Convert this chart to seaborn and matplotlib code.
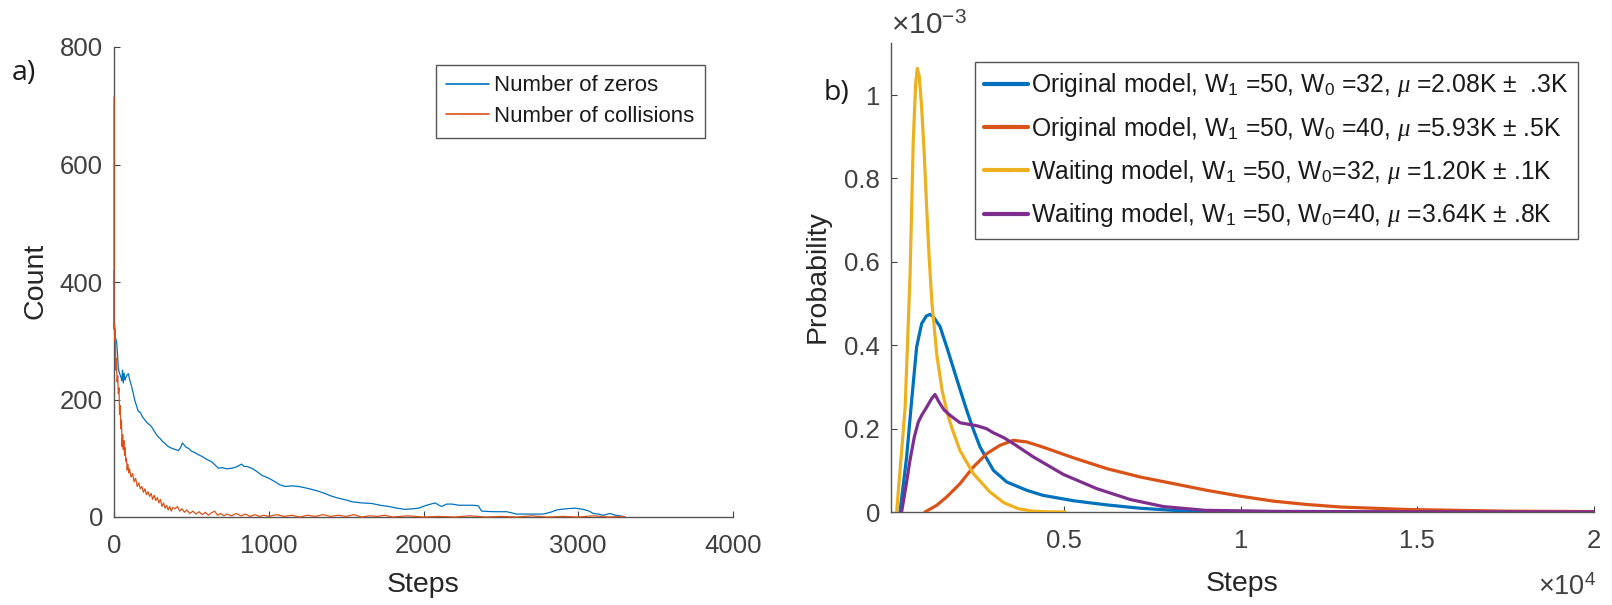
import matplotlib
matplotlib.use("Agg")
import matplotlib.pyplot as plt
import matplotlib.ticker as mticker
import numpy as np
import pandas as pd
import seaborn as sns

# ---------------- data: panel a ----------------
zeros_steps = [0, 0, 2, 5, 10, 17, 22, 28, 35, 45, 50, 55, 60, 65, 71, 80, 93, 100, 114, 125, 135,
               147, 157, 170, 185, 200, 215, 230, 244, 260, 275, 287, 300, 315, 330, 350, 373,
               395, 416, 430, 442, 455, 470, 481, 500, 520, 545, 570, 600, 631, 655, 675, 700,
               730, 761, 790, 810, 825, 840, 860, 890, 920, 955, 1000, 1041, 1070, 1106, 1150,
               1192, 1230, 1278, 1320, 1364, 1400, 1450, 1500, 1537, 1600, 1666, 1720, 1774,
               1830, 1881, 1930, 1968, 2020, 2075, 2100, 2118, 2150, 2183, 2230, 2270, 2320,
               2354, 2376, 2450, 2538, 2602, 2700, 2774, 2820, 2861, 2920, 2979, 3033, 3070,
               3097, 3130, 3162, 3205, 3240, 3270, 3302]
zeros_count = [420, 320, 330, 320, 305, 298, 280, 253, 245, 238, 232, 250, 228, 245, 233, 240, 244,
               235, 222, 210, 198, 188, 180, 178, 170, 165, 160, 157, 153, 146, 140, 136, 133,
               128, 125, 120, 117, 115, 113, 118, 126, 122, 118, 117, 112, 110, 106, 103, 98,
               94, 88, 83, 84, 82, 83, 85, 88, 90, 86, 86, 83, 78, 71, 66, 60, 55, 52, 53, 52,
               50, 47, 44, 40, 36, 32, 29, 26, 24, 23, 20, 18, 15, 13, 14, 15, 20, 24, 20, 18,
               22, 22, 20, 20, 20, 19, 10, 9, 9, 5, 5, 5, 8, 12, 14, 15, 13, 10, 6, 5, 3, 6, 3,
               2, 0]

coll_steps = [0, 0, 2, 5, 8, 12, 16, 20, 24, 28, 32, 36, 40, 44, 48, 52, 56, 60, 64, 68, 72, 76,
              80, 85, 90, 95, 100, 110, 120, 130, 140, 150, 160, 170, 180, 190, 200, 210, 220,
              230, 240, 250, 260, 270, 280, 290, 300, 310, 320, 330, 340, 350, 360, 370, 380,
              395, 410, 425, 440, 455, 470, 490, 510, 530, 550, 570, 590, 610, 630, 650, 670,
              690, 710, 730, 760, 790, 820, 850, 880, 910, 940, 970, 1000, 1050, 1100, 1150,
              1200, 1250, 1300, 1350, 1400, 1450, 1500, 1550, 1600, 1650, 1700, 1750, 1800,
              1900, 2000, 2100, 2200, 2300, 2400, 2500, 2600, 2700, 2800, 2900, 3000, 3100,
              3200, 3300]
coll_count = [715, 320, 330, 300, 320, 250, 270, 230, 240, 210, 220, 175, 190, 150, 165, 120, 140,
              115, 130, 105, 118, 95, 100, 80, 90, 75, 82, 68, 74, 60, 66, 52, 58, 48, 52, 42,
              48, 38, 43, 35, 40, 30, 37, 28, 33, 24, 30, 18, 24, 15, 20, 12, 18, 10, 16, 14,
              18, 10, 14, 8, 12, 6, 10, 5, 9, 4, 8, 3, 7, 10, 3, 6, 2, 5, 2, 6, 2, 5, 1, 4, 1,
              3, 1, 4, 1, 3, 0, 3, 1, 4, 1, 3, 1, 4, 0, 2, 1, 3, 0, 2, 0, 1, 0, 2, 0, 1, 0, 2,
              0, 1, 0, 2, 0, 1]

# ---------------- data: panel b (probability) ----------------
orig32_steps = [354, 543, 685, 826, 968, 1100, 1204, 1300, 1487, 1700, 1865, 2050, 2243, 2430,
                2620, 2998, 3376, 3943, 4400, 5264, 6209, 7153, 8097, 9500, 11000, 13000, 14567]
orig32_prob = [0, 0.132e-3, 0.268e-3, 0.396e-3, 0.452e-3, 0.47e-3, 0.474e-3, 0.468e-3, 0.445e-3,
               0.39e-3, 0.345e-3, 0.295e-3, 0.244e-3, 0.198e-3, 0.156e-3, 0.10e-3, 0.072e-3,
               0.052e-3, 0.040e-3, 0.027e-3, 0.017e-3, 0.009e-3, 0.004e-3, 0.0015e-3, 0.0008e-3,
               0.0003e-3, 0.0001e-3]

orig40_steps = [1062, 1393, 1675, 2054, 2431, 2810, 3187, 3565, 3943, 4320, 5264, 6209, 7153,
                8097, 9041, 9986, 10930, 11875, 12820, 13764, 14708, 16126, 17543, 20000]
orig40_prob = [0, 0.016e-3, 0.036e-3, 0.068e-3, 0.108e-3, 0.14e-3, 0.16e-3, 0.172e-3, 0.168e-3,
               0.158e-3, 0.13e-3, 0.104e-3, 0.084e-3, 0.068e-3, 0.052e-3, 0.038e-3, 0.026e-3,
               0.018e-3, 0.012e-3, 0.009e-3, 0.006e-3, 0.004e-3, 0.002e-3, 0.001e-3]

wait32_steps = [260, 500, 640, 730, 800, 845, 900, 968, 1040, 1110, 1180, 1260, 1400, 1550, 1700,
                1850, 2050, 2430, 2900, 3300, 3700, 4100, 4500, 5030]
wait32_prob = [0, 0.25e-3, 0.57e-3, 0.89e-3, 1.03e-3, 1.064e-3, 1.045e-3, 0.97e-3, 0.86e-3,
               0.73e-3, 0.61e-3, 0.50e-3, 0.375e-3, 0.29e-3, 0.235e-3, 0.195e-3, 0.148e-3,
               0.092e-3, 0.048e-3, 0.022e-3, 0.008e-3, 0.002e-3, 0.0005e-3, 0]

wait40_steps = [400, 520, 637, 760, 873, 968, 1100, 1250, 1346, 1450, 1600, 1771, 2054, 2526,
                2800, 2998, 3300, 3565, 4131, 4982, 5926, 6870, 7814, 9000, 11000, 14000, 17000,
                20000]
wait40_prob = [0, 0.06e-3, 0.124e-3, 0.18e-3, 0.216e-3, 0.232e-3, 0.25e-3, 0.272e-3, 0.282e-3,
               0.265e-3, 0.245e-3, 0.232e-3, 0.214e-3, 0.207e-3, 0.2e-3, 0.19e-3, 0.178e-3,
               0.164e-3, 0.132e-3, 0.09e-3, 0.056e-3, 0.03e-3, 0.013e-3, 0.004e-3, 0.0015e-3,
               0.0006e-3, 0.0003e-3, 0.0001e-3]

labels_a = ["Number of zeros", "Number of collisions"]
labels_b = [r"Original model, W$_1$ =50, W$_0$ =32, $\mu$ =2.08K $\pm$  .3K",
            r"Original model, W$_1$ =50, W$_0$ =40, $\mu$ =5.93K $\pm$ .5K",
            r"Waiting model, W$_1$ =50, W$_0$=32, $\mu$ =1.20K $\pm$ .1K",
            r"Waiting model, W$_1$ =50, W$_0$=40, $\mu$ =3.64K $\pm$ .8K"]

a_xticks = [0, 1000, 2000, 3000, 4000]
a_yticks = [0, 200, 400, 600, 800]
b_xticks = [5000, 10000, 15000, 20000]
b_yticks = [0, 0.2e-3, 0.4e-3, 0.6e-3, 0.8e-3, 1.0e-3]

# ---------------- style ----------------
sns.set_style("ticks")
AX = "#262626"
plt.rcParams.update({
    "font.family": ["Liberation Sans", "DejaVu Sans"],
    "mathtext.fontset": "custom",
    "mathtext.rm": "Liberation Sans",
    "mathtext.it": "Liberation Serif:italic",
    "mathtext.bf": "Liberation Sans:bold",
    "axes.edgecolor": AX,
    "xtick.color": AX,
    "ytick.color": AX,
    "text.color": "#1a1a1a",
})

BLUE, ORANGE, YELLOW, PURPLE = "#0072BD", "#D95319", "#EDB120", "#7E2F8E"

W, H = 1612, 605
fig = plt.figure(figsize=(W / 100, H / 100), dpi=100)

def fx(px):
    return px / W

def fy(py):
    return 1 - py / H

axa = fig.add_axes([fx(114), fy(517), fx(733 - 114), (517 - 47) / H])
axb = fig.add_axes([fx(891), fy(512), fx(1594 - 891), (512 - 43) / H])

# panel a
sns.lineplot(x=zeros_steps, y=zeros_count, ax=axa, color=BLUE, linewidth=0.9,
             sort=False, estimator=None, label=labels_a[0], zorder=3)
sns.lineplot(x=coll_steps, y=coll_count, ax=axa, color=ORANGE, linewidth=0.9,
             sort=False, estimator=None, label=labels_a[1], zorder=3)
for ln in axa.get_lines():
    ln.set_clip_on(False)
axa.set_xlim(0, 4000)
axa.set_ylim(0, 800)
axa.set_xticks(a_xticks)
axa.set_yticks(a_yticks)

# panel b
for xs, ys, c, lab in [(orig32_steps, orig32_prob, BLUE, labels_b[0]),
                       (orig40_steps, orig40_prob, ORANGE, labels_b[1]),
                       (wait32_steps, wait32_prob, YELLOW, labels_b[2]),
                       (wait40_steps, wait40_prob, PURPLE, labels_b[3])]:
    sns.lineplot(x=xs, y=ys, ax=axb, color=c, linewidth=2.3, sort=False,
                 estimator=None, label=lab, zorder=3)
axb.set_xlim(100, 20000)
axb.set_ylim(0, 1.125e-3)
axb.set_xticks(b_xticks)
axb.set_yticks(b_yticks)
axb.xaxis.set_major_formatter(mticker.FuncFormatter(lambda v, p: f"{v / 1e4:g}"))
axb.yaxis.set_major_formatter(mticker.FuncFormatter(lambda v, p: f"{v * 1e3:g}"))

for ax in (axa, axb):
    sns.despine(ax=ax)
    for s in ("left", "bottom"):
        ax.spines[s].set_linewidth(1.0)
        ax.spines[s].set_color("#555555")
    ax.tick_params(direction="in", length=4, width=0.8, labelsize=18.5,
                   colors="#404040")
    ax.tick_params(axis="y", pad=8)
    ax.tick_params(axis="x", pad=12)
    ax.set_xlabel("")
    ax.set_ylabel("")

# axis labels
LBL = 20.5
fig.text(fx(423), fy(592), "Steps", ha="center", va="baseline", fontsize=LBL, color="#262626")
fig.text(fx(1242), fy(591), "Steps", ha="center", va="baseline", fontsize=LBL, color="#262626")
fig.text(fx(35), fy(281), "Count", ha="center", va="center", rotation=90, fontsize=LBL,
         color="#262626")
fig.text(fx(818), fy(277), "Probability", ha="center", va="center", rotation=90, fontsize=LBL,
         color="#262626")

# exponent labels
fig.text(fx(891), fy(34), r"$\times$10$^{\mathregular{-3}}$", ha="left", va="baseline",
         fontsize=21.5, color="#404040")
fig.text(fx(1596), fy(595), r"$\times$10$^{\mathregular{4}}$", ha="right", va="baseline",
         fontsize=19.5, color="#404040")

# panel letters
fig.text(fx(12), fy(80), "a)", ha="left", va="baseline", fontsize=20.5, family="Open Sans")
fig.text(fx(824), fy(100), "b)", ha="left", va="baseline", fontsize=20.5, family="Open Sans")

# legends
lga = axa.legend(loc="upper left", bbox_to_anchor=(fx(436), fy(65)),
                 bbox_transform=fig.transFigure, borderaxespad=0, fontsize=16,
                 handlelength=1.9, handletextpad=0.25, labelspacing=0.44, borderpad=0.47,
                 fancybox=False, framealpha=1, edgecolor="#555555")
lga.get_frame().set_linewidth(1.0)
for l in lga.get_lines():
    l.set_linewidth(1.2)

lgb = axb.legend(loc="upper left", bbox_to_anchor=(fx(975), fy(62)),
                 bbox_transform=fig.transFigure, borderaxespad=0, fontsize=17.8,
                 handlelength=1.75, handletextpad=0.12, labelspacing=0.62, borderpad=0.38,
                 fancybox=False, framealpha=1, edgecolor="#555555")
lgb.get_frame().set_linewidth(1.0)
for l in lgb.get_lines():
    l.set_linewidth(3)

fig.savefig("out.png", dpi=100, facecolor="white")
